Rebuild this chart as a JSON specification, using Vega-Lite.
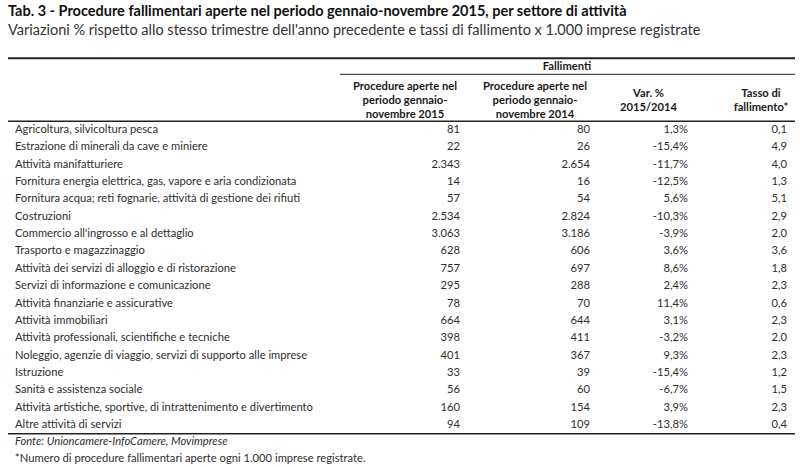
{
  "$schema": "https://vega.github.io/schema/vega-lite/v6.json",
  "width": 800,
  "height": 423,
  "autosize": {"type": "none"},
  "padding": {"left": 0, "right": 0, "top": 44, "bottom": 0},
  "background": "white",
  "title": {
    "text": "Tab. 3 - Procedure fallimentari aperte nel periodo gennaio-novembre  2015, per settore di attività",
    "subtitle": "Variazioni % rispetto allo stesso trimestre dell'anno precedente e tassi di fallimento x 1.000 imprese registrate",
    "anchor": "start",
    "frame": "group",
    "dx": 8,
    "offset": 6,
    "font": "Lato",
    "fontSize": 14.5,
    "fontWeight": "bold",
    "color": "#111",
    "subtitleFont": "Lato",
    "subtitleFontSize": 14.5,
    "subtitleColor": "#333",
    "subtitlePadding": 4
  },
  "config": {
    "view": {"stroke": null},
    "locale": {
      "number": {"decimal": ",", "thousands": ".", "grouping": [3], "currency": ["€", ""], "minus": "-"}
    },
    "text": {"font": "Lato", "fontSize": 11.2, "color": "#2e2e2e"}
  },
  "datasets": {
    "righe": [
      {"n": 1, "settore": "Agricoltura, silvicoltura pesca", "p2015": 81, "p2014": 80, "var": 0.013, "tasso": 0.1},
      {"n": 2, "settore": "Estrazione di minerali da cave e miniere", "p2015": 22, "p2014": 26, "var": -0.154, "tasso": 4.9},
      {"n": 3, "settore": "Attività manifatturiere", "p2015": 2343, "p2014": 2654, "var": -0.117, "tasso": 4.0},
      {"n": 4, "settore": "Fornitura energia elettrica, gas, vapore e aria condizionata", "p2015": 14, "p2014": 16, "var": -0.125, "tasso": 1.3},
      {"n": 5, "settore": "Fornitura acqua; reti fognarie, attività di gestione dei rifiuti", "p2015": 57, "p2014": 54, "var": 0.056, "tasso": 5.1},
      {"n": 6, "settore": "Costruzioni", "p2015": 2534, "p2014": 2824, "var": -0.103, "tasso": 2.9},
      {"n": 7, "settore": "Commercio all'ingrosso e al dettaglio", "p2015": 3063, "p2014": 3186, "var": -0.039, "tasso": 2.0},
      {"n": 8, "settore": "Trasporto e magazzinaggio", "p2015": 628, "p2014": 606, "var": 0.036, "tasso": 3.6},
      {"n": 9, "settore": "Attività dei servizi di alloggio e di ristorazione", "p2015": 757, "p2014": 697, "var": 0.086, "tasso": 1.8},
      {"n": 10, "settore": "Servizi di informazione e comunicazione", "p2015": 295, "p2014": 288, "var": 0.024, "tasso": 2.3},
      {"n": 11, "settore": "Attività finanziarie e assicurative", "p2015": 78, "p2014": 70, "var": 0.114, "tasso": 0.6},
      {"n": 12, "settore": "Attività immobiliari", "p2015": 664, "p2014": 644, "var": 0.031, "tasso": 2.3},
      {"n": 13, "settore": "Attività professionali, scientifiche e tecniche", "p2015": 398, "p2014": 411, "var": -0.032, "tasso": 2.0},
      {"n": 14, "settore": "Noleggio, agenzie di viaggio, servizi di supporto alle imprese", "p2015": 401, "p2014": 367, "var": 0.093, "tasso": 2.3},
      {"n": 15, "settore": "Istruzione", "p2015": 33, "p2014": 39, "var": -0.154, "tasso": 1.2},
      {"n": 16, "settore": "Sanità e assistenza sociale", "p2015": 56, "p2014": 60, "var": -0.067, "tasso": 1.5},
      {"n": 17, "settore": "Attività artistiche, sportive, di intrattenimento e divertimento", "p2015": 160, "p2014": 154, "var": 0.039, "tasso": 2.3},
      {"n": 18, "settore": "Altre attività di servizi", "p2015": 94, "p2014": 109, "var": -0.138, "tasso": 0.4}
    ],
    "intestazioni3": [
      {"col": 1.5, "testo": "Procedure aperte nel\nperiodo gennaio-\nnovembre 2015"},
      {"col": 2.5, "testo": "Procedure aperte nel\nperiodo gennaio-\nnovembre 2014"}
    ],
    "intestazioneVar": [{"col": 3.5, "testo": "Var. %\n2015/2014"}],
    "intestazioneTasso": [{"col": 4.5, "testo": "Tasso di\nfallimento*"}],
    "gruppo": [{"testo": "Fallimenti"}],
    "fonte": [{"testo": "Fonte: Unioncamere-InfoCamere, Movimprese"}],
    "nota": [{"testo": "*Numero di procedure fallimentari aperte ogni 1.000 imprese registrate."}]
  },
  "encoding": {
    "x": {"type": "quantitative", "scale": {"domain": [0, 1, 2, 3, 4, 5], "range": [8, 340, 470, 600, 697, 795], "nice": false, "zero": false}, "axis": null},
    "y": {"type": "ordinal", "scale": {"type": "band", "range": [77.3, 389.7], "paddingInner": 0, "paddingOuter": 0}, "axis": null}
  },
  "layer": [
    {
      "data": {"name": "righe"},
      "mark": {"type": "text", "align": "left", "baseline": "middle", "dx": 7},
      "encoding": {
        "x": {"datum": 0, "type": "quantitative"},
        "y": {"field": "n", "type": "ordinal"},
        "text": {"field": "settore"}
      }
    },
    {
      "data": {"name": "righe"},
      "mark": {"type": "text", "align": "right", "baseline": "middle", "dx": -10},
      "encoding": {
        "x": {"datum": 2, "type": "quantitative"},
        "y": {"field": "n", "type": "ordinal"},
        "text": {"field": "p2015", "type": "quantitative", "format": ",d"}
      }
    },
    {
      "data": {"name": "righe"},
      "mark": {"type": "text", "align": "right", "baseline": "middle", "dx": -10},
      "encoding": {
        "x": {"datum": 3, "type": "quantitative"},
        "y": {"field": "n", "type": "ordinal"},
        "text": {"field": "p2014", "type": "quantitative", "format": ",d"}
      }
    },
    {
      "data": {"name": "righe"},
      "mark": {"type": "text", "align": "right", "baseline": "middle", "dx": -9},
      "encoding": {
        "x": {"datum": 4, "type": "quantitative"},
        "y": {"field": "n", "type": "ordinal"},
        "text": {"field": "var", "type": "quantitative", "format": ".1%"}
      }
    },
    {
      "data": {"name": "righe"},
      "mark": {"type": "text", "align": "right", "baseline": "middle", "dx": -8},
      "encoding": {
        "x": {"datum": 5, "type": "quantitative"},
        "y": {"field": "n", "type": "ordinal"},
        "text": {"field": "tasso", "type": "quantitative", "format": ".1f"}
      }
    },
    {
      "data": {"name": "intestazioni3"},
      "mark": {"type": "text", "align": "center", "baseline": "middle", "fontWeight": "bold", "lineBreak": "\n", "lineHeight": 14, "dy": -34, "color": "#1a1a1a"},
      "encoding": {
        "x": {"field": "col", "type": "quantitative"},
        "y": {"datum": 1, "type": "ordinal", "bandPosition": 0},
        "text": {"field": "testo"}
      }
    },
    {
      "data": {"name": "intestazioneVar"},
      "mark": {"type": "text", "align": "center", "baseline": "middle", "fontWeight": "bold", "lineBreak": "\n", "lineHeight": 14, "dy": -27, "color": "#1a1a1a"},
      "encoding": {
        "x": {"field": "col", "type": "quantitative"},
        "y": {"datum": 1, "type": "ordinal", "bandPosition": 0},
        "text": {"field": "testo"}
      }
    },
    {
      "data": {"name": "intestazioneTasso"},
      "mark": {"type": "text", "align": "center", "baseline": "middle", "fontWeight": "bold", "lineBreak": "\n", "lineHeight": 14, "dy": -27, "dx": 15, "color": "#1a1a1a"},
      "encoding": {
        "x": {"field": "col", "type": "quantitative"},
        "y": {"datum": 1, "type": "ordinal", "bandPosition": 0},
        "text": {"field": "testo"}
      }
    },
    {
      "data": {"name": "gruppo"},
      "mark": {"type": "text", "align": "center", "baseline": "middle", "fontWeight": "bold", "dy": -54, "dx": -33, "color": "#1a1a1a"},
      "encoding": {
        "x": {"datum": 3, "type": "quantitative"},
        "y": {"datum": 1, "type": "ordinal", "bandPosition": 0},
        "text": {"field": "testo"}
      }
    },
    {
      "data": {"name": "fonte"},
      "mark": {"type": "text", "align": "left", "baseline": "middle", "fontStyle": "italic", "dx": 7, "dy": 8},
      "encoding": {
        "x": {"datum": 0, "type": "quantitative"},
        "y": {"datum": 18, "type": "ordinal", "bandPosition": 1},
        "text": {"field": "testo"}
      }
    },
    {
      "data": {"name": "nota"},
      "mark": {"type": "text", "align": "left", "baseline": "middle", "dx": 7, "dy": 25},
      "encoding": {
        "x": {"datum": 0, "type": "quantitative"},
        "y": {"datum": 18, "type": "ordinal", "bandPosition": 1},
        "text": {"field": "testo"}
      }
    },
    {
      "data": {"name": "gruppo"},
      "mark": {"type": "rule", "color": "#222", "strokeWidth": 2, "yOffset": -63},
      "encoding": {
        "x": {"datum": 0, "type": "quantitative"},
        "x2": {"datum": 5},
        "y": {"datum": 1, "type": "ordinal", "bandPosition": 0}
      }
    },
    {
      "data": {"name": "gruppo"},
      "mark": {"type": "rule", "color": "#222", "strokeWidth": 1, "yOffset": -47},
      "encoding": {
        "x": {"datum": 1, "type": "quantitative"},
        "x2": {"datum": 5},
        "y": {"datum": 1, "type": "ordinal", "bandPosition": 0}
      }
    },
    {
      "data": {"name": "gruppo"},
      "mark": {"type": "rule", "color": "#222", "strokeWidth": 1.5},
      "encoding": {
        "x": {"datum": 0, "type": "quantitative"},
        "x2": {"datum": 5},
        "y": {"datum": 1, "type": "ordinal", "bandPosition": 0}
      }
    },
    {
      "data": {"name": "gruppo"},
      "mark": {"type": "rule", "color": "#222", "strokeWidth": 1.5},
      "encoding": {
        "x": {"datum": 0, "type": "quantitative"},
        "x2": {"datum": 5},
        "y": {"datum": 18, "type": "ordinal", "bandPosition": 1}
      }
    }
  ]
}
